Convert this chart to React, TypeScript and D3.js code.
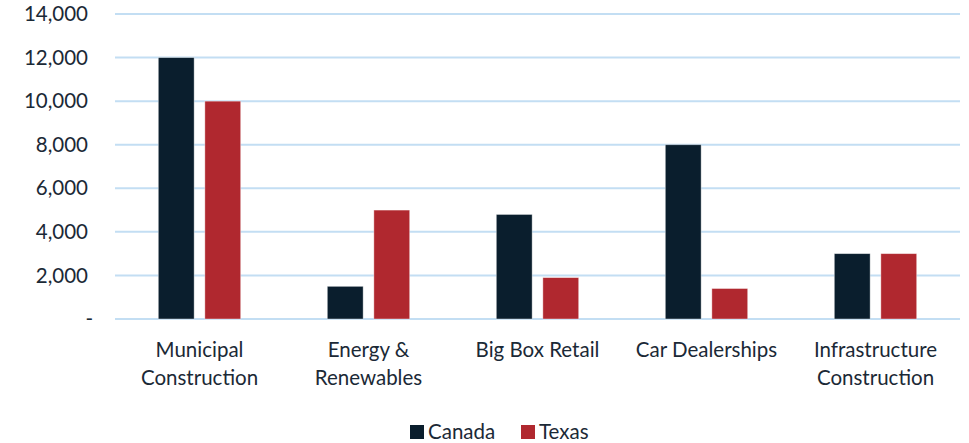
import React from "react";
import * as d3 from "d3";

const categories = [
  ["Municipal", "Construction"],
  ["Energy &", "Renewables"],
  ["Big Box Retail"],
  ["Car Dealerships"],
  ["Infrastructure", "Construction"],
];
const seriesNames = ["Canada", "Texas"];
const canada = [12000, 1500, 4800, 8000, 3000];
const texas = [10000, 5000, 1900, 1400, 3000];
const yTicks = [0, 2000, 4000, 6000, 8000, 10000, 12000, 14000];
const colors = ["#0a1e2d", "#b0282f"];

const W = 969;
const H = 443;
const left = 115;
const right = 960;
const top = 14;
const bottom = 319;
const FONT = "Lato, 'Open Sans', sans-serif";
const TEXT = "#1b2936";
const FS = 20.5;

export default function App() {
  const x = d3
    .scaleBand<number>()
    .domain(d3.range(categories.length))
    .range([left, right])
    .paddingInner(0)
    .paddingOuter(0);
  const y = d3.scaleLinear().domain([0, 14000]).range([bottom, top]);
  const inner = d3
    .scaleBand<number>()
    .domain([0, 1])
    .range([0, x.bandwidth()])
    .paddingInner(0.23)
    .paddingOuter(0.93);
  const data = [canada, texas];
  const fmt = (v: number) => (v === 0 ? "-" : d3.format(",")(v));

  return (
    <svg width={W} height={H} style={{ position: "absolute", left: 0, top: 0 }}>
      <rect width={W} height={H} fill="#fff" />
      {yTicks.map((t) => (
        <g key={t}>
          <line x1={left} x2={right} y1={y(t)} y2={y(t)} stroke="#c3def3" strokeWidth={2} />
          <text
            x={t === 0 ? 93 : 88}
            y={y(t)}
            dy="0.35em"
            textAnchor="end"
            fontFamily={FONT}
            fontSize={FS}
            fill={TEXT}
          >
            {fmt(t)}
          </text>
        </g>
      ))}
      {data.map((vals, s) =>
        vals.map((v, i) => (
          <rect
            key={`${s}-${i}`}
            x={(x(i) as number) + (inner(s) as number)}
            y={y(v)}
            width={inner.bandwidth()}
            height={y(0) - y(v)}
            fill={colors[s]}
            stroke="#ffffff"
            strokeOpacity={0.5}
            strokeWidth={0.8}
          />
        ))
      )}
      {categories.map((lines, i) => (
        <text
          key={i}
          x={(x(i) as number) + x.bandwidth() / 2}
          y={357}
          textAnchor="middle"
          fontFamily={FONT}
          fontSize={FS}
          fill={TEXT}
        >
          {lines.map((l, j) => (
            <tspan key={j} x={(x(i) as number) + x.bandwidth() / 2} dy={j === 0 ? 0 : 28}>
              {l}
            </tspan>
          ))}
        </text>
      ))}
      <g>
        {seriesNames.map((n, s) => {
          const lx = s === 0 ? 410 : 521;
          return (
            <g key={n}>
              <rect x={lx} y={425} width={14} height={14} fill={colors[s]} />
              <text x={lx + 18} y={432} dy="0.35em" fontFamily={FONT} fontSize={FS} fill={TEXT}>
                {n}
              </text>
            </g>
          );
        })}
      </g>
    </svg>
  );
}
